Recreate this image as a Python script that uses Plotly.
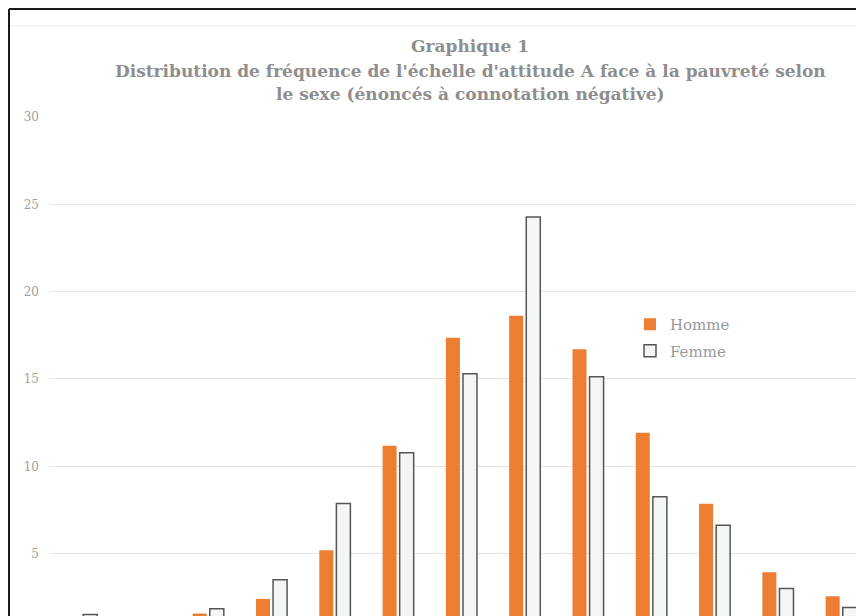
import plotly.graph_objects as go

# Score classes (labels are cropped out of the reference image)
categories = ["1", "2", "3", "4", "5", "6", "7", "8", "9", "10", "11", "12", "13"]
homme = [1.0, 0.8, 1.57, 2.41, 5.19, 11.18, 17.36, 18.62, 16.70, 11.92, 7.86, 3.93, 2.56]
femme = [1.52, 0.9, 1.84, 3.51, 7.87, 10.78, 15.30, 24.27, 15.13, 8.26, 6.62, 3.00, 1.91]
y_ticks = [5, 10, 15, 20, 25, 30]

SERIF = "DejaVu Serif"
W, H = 864, 616
OFF = 8               # page body margin
L, T, R, B = 42, 109, 8, 8
PW, PH = W - L - R, H - T - B

fig = go.Figure()
fig.add_trace(go.Bar(
    x=categories, y=homme, name="Homme", legendgroup="h",
    marker=dict(color="#ED7D31", line=dict(width=0)),
))
fig.add_trace(go.Bar(
    x=categories, y=femme, name="Femme", legendgroup="f",
    marker=dict(color="#F4F5F5", line=dict(color="#555555", width=1.5)),
))

def px(x):  # page pixel -> paper
    return (x - OFF - L) / PW

def py(y):
    return (H - B - (y - OFF)) / PH

title_lines = [
    ("Graphique 1", 46),
    ("Distribution de fréquence de l'échelle d'attitude A face à la pauvreté selon", 71),
    ("le sexe (énoncés à connotation négative)", 94),
]
annotations = []
for txt, yc in title_lines:
    annotations.append(dict(
        text="<b>" + txt + "</b>", xref="paper", yref="paper",
        x=px(470), y=py(yc), xanchor="center", yanchor="middle",
        showarrow=False, font=dict(family=SERIF, size=17, color="#8E8E8E"),
    ))

shapes = [
    dict(type="line", xref="paper", yref="paper", x0=px(9), x1=px(880), y0=py(9), y1=py(9),
         line=dict(color="#1a1a1a", width=2)),
    dict(type="line", xref="paper", yref="paper", x0=px(9), x1=px(9), y0=py(9), y1=py(630),
         line=dict(color="#1a1a1a", width=2)),
    dict(type="line", xref="paper", yref="paper", x0=px(10), x1=px(880), y0=py(26), y1=py(26),
         line=dict(color="#EBEBEB", width=1)),
]

fig.update_layout(
    width=W, height=H,
    margin=dict(l=L, r=R, t=T, b=B, pad=0),
    paper_bgcolor="white", plot_bgcolor="white",
    barmode="group", bargap=0.46, bargroupgap=0.18,
    font=dict(family=SERIF, color="#999999"),
    showlegend=True,
    legend=dict(
        x=px(630), y=py(308), xanchor="left", yanchor="top",
        font=dict(family=SERIF, size=15, color="#999999"),
        bgcolor="rgba(0,0,0,0)", itemwidth=30, tracegroupgap=4,
    ),
    annotations=annotations,
    shapes=shapes,
    xaxis=dict(
        type="category", range=[-0.5, 12.36], showticklabels=False,
        showgrid=False, zeroline=False, showline=False, ticks="",
    ),
    yaxis=dict(
        range=[1.43, 30], tickvals=y_ticks, showgrid=True, gridcolor="#E4E4E4",
        gridwidth=1, zeroline=False, showline=False, ticks="",
        tickfont=dict(family=SERIF, size=12, color="#A0A0A0"),
        ticklabelstandoff=10,
    ),
)

fig.write_html("out.html")
